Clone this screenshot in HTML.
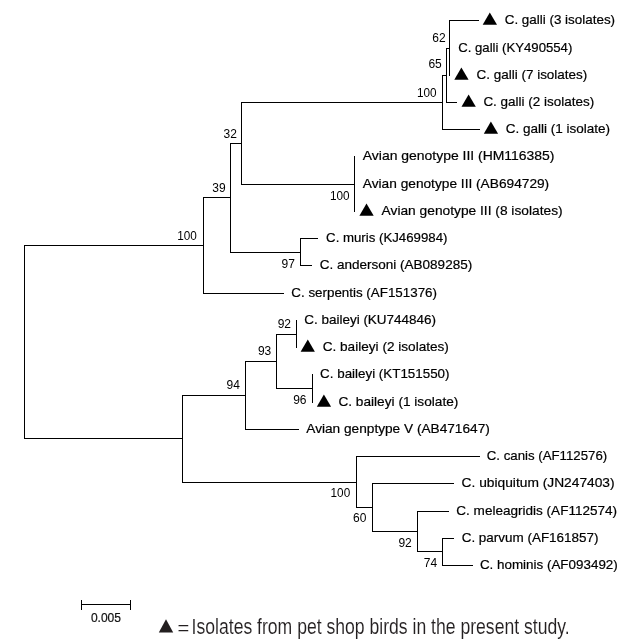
<!DOCTYPE html>
<html lang="en"><head><meta charset="utf-8"><title>Phylogenetic tree</title>
<style>
html,body{margin:0;padding:0;background:#fff;}
svg{display:block;}
.ln{stroke:#000;stroke-width:1;fill:none;stroke-linecap:square;shape-rendering:crispEdges;}
.lb{font-family:"Liberation Sans",Arial,sans-serif;font-size:13.3px;fill:#000;stroke:#000;stroke-width:0.2px;}
.bt{font-family:"Liberation Sans",Arial,sans-serif;font-size:12px;fill:#000;text-anchor:end;}
.sc{font-family:"Liberation Sans",Arial,sans-serif;font-size:12px;fill:#111;stroke:#111;stroke-width:0.2px;}
.cap{font-family:"Liberation Sans",Arial,sans-serif;font-size:21.3px;fill:#231f20;stroke:#fff;stroke-width:0.1px;}
</style></head><body>
<svg width="627" height="644" viewBox="0 0 627 644">
<rect width="627" height="644" fill="#fff"/>
<g class="ln">
<path d="M24.50 245.50H203.00M24.50 438.50H182.00M203.50 293.50H283.50M203.50 197.50H230.00M230.50 252.50H300.00M300.50 238.50H317.50M300.50 265.50H311.50M230.50 143.50H241.00M241.50 184.50H354.00M241.50 102.50H442.00M442.50 129.50H479.50M442.50 75.50H446.00M446.50 102.50H456.50M446.50 48.50H449.00M449.50 20.50H478.50M182.50 395.50H245.00M245.50 429.50H298.00M245.50 361.50H276.00M276.50 334.50H296.00M276.50 388.50H312.00M182.50 482.50H356.00M356.50 456.50H479.00M356.50 507.50H372.00M372.50 483.50H453.00M372.50 531.50H417.00M417.50 511.50H448.00M417.50 551.50H442.00M442.50 538.50H453.00M442.50 565.50H472.50M81.50 604.50H130.00M24.50 245.50V438.50M203.50 197.50V293.50M230.50 143.50V252.50M300.50 238.50V265.50M241.50 102.50V184.50M354.50 156.50V211.50M442.50 75.50V129.50M446.50 48.50V102.50M449.50 20.50V75.50M182.50 395.50V482.50M245.50 361.50V429.50M276.50 334.50V388.50M296.50 320.50V347.50M312.50 374.50V402.50M356.50 456.50V507.50M372.50 483.50V531.50M417.50 511.50V551.50M442.50 538.50V565.50M81.50 600.00V609.50M130.50 600.00V609.50"/>
</g>
<g fill="#000">
<polygon points="482.7,24.7 497.0,24.7 489.8,12.5"/>
<polygon points="454.3,79.7 468.6,79.7 461.4,67.5"/>
<polygon points="461.5,106.7 475.8,106.7 468.6,94.5"/>
<polygon points="483.8,133.7 498.1,133.7 490.9,121.5"/>
<polygon points="359.4,215.7 373.7,215.7 366.5,203.5"/>
<polygon points="300.6,351.7 314.9,351.7 307.8,339.5"/>
<polygon points="316.8,406.7 331.1,406.7 323.9,394.5"/>
</g>
<g class="lb">
<text x="504.7" y="24.4" textLength="110.4" lengthAdjust="spacingAndGlyphs">C. galli (3 isolates)</text>
<text x="458.2" y="52.2" textLength="114.1" lengthAdjust="spacingAndGlyphs">C. galli (KY490554)</text>
<text x="476.5" y="79.4" textLength="110.8" lengthAdjust="spacingAndGlyphs">C. galli (7 isolates)</text>
<text x="483.4" y="106.4" textLength="110.8" lengthAdjust="spacingAndGlyphs">C. galli (2 isolates)</text>
<text x="505.7" y="133.4" textLength="104.4" lengthAdjust="spacingAndGlyphs">C. galli (1 isolate)</text>
<text x="362.8" y="160.2" textLength="191.7" lengthAdjust="spacingAndGlyphs">Avian genotype III (HM116385)</text>
<text x="362.8" y="188.2" textLength="186.4" lengthAdjust="spacingAndGlyphs">Avian genotype III (AB694729)</text>
<text x="381.6" y="215.4" textLength="181.0" lengthAdjust="spacingAndGlyphs">Avian genotype III (8 isolates)</text>
<text x="326.1" y="242.2" textLength="121.3" lengthAdjust="spacingAndGlyphs">C. muris (KJ469984)</text>
<text x="319.7" y="269.2" textLength="152.5" lengthAdjust="spacingAndGlyphs">C. andersoni (AB089285)</text>
<text x="291.3" y="297.2" textLength="145.7" lengthAdjust="spacingAndGlyphs">C. serpentis (AF151376)</text>
<text x="304.2" y="324.2" textLength="131.9" lengthAdjust="spacingAndGlyphs">C. baileyi (KU744846)</text>
<text x="322.7" y="351.4" textLength="126.2" lengthAdjust="spacingAndGlyphs">C. baileyi (2 isolates)</text>
<text x="320.1" y="378.2" textLength="129.4" lengthAdjust="spacingAndGlyphs">C. baileyi (KT151550)</text>
<text x="338.4" y="406.4" textLength="120.0" lengthAdjust="spacingAndGlyphs">C. baileyi (1 isolate)</text>
<text x="306.3" y="433.2" textLength="183.5" lengthAdjust="spacingAndGlyphs">Avian genptype V (AB471647)</text>
<text x="486.8" y="460.2" textLength="120.4" lengthAdjust="spacingAndGlyphs">C. canis (AF112576)</text>
<text x="461.6" y="487.2" textLength="153.0" lengthAdjust="spacingAndGlyphs">C. ubiquitum (JN247403)</text>
<text x="456.3" y="515.2" textLength="160.8" lengthAdjust="spacingAndGlyphs">C. meleagridis (AF112574)</text>
<text x="461.7" y="542.2" textLength="136.8" lengthAdjust="spacingAndGlyphs">C. parvum (AF161857)</text>
<text x="479.9" y="569.2" textLength="137.9" lengthAdjust="spacingAndGlyphs">C. hominis (AF093492)</text>
</g>
<g class="bt">
<text x="445.6" y="41.7">62</text>
<text x="441.8" y="68.2">65</text>
<text x="436.6" y="96.7" textLength="19.6" lengthAdjust="spacingAndGlyphs">100</text>
<text x="236.9" y="137.5">32</text>
<text x="225.6" y="191.6">39</text>
<text x="196.9" y="239.6" textLength="19.6" lengthAdjust="spacingAndGlyphs">100</text>
<text x="349.6" y="199.5" textLength="19.6" lengthAdjust="spacingAndGlyphs">100</text>
<text x="294.9" y="267.5">97</text>
<text x="291.0" y="327.6">92</text>
<text x="271.3" y="354.6">93</text>
<text x="239.9" y="388.7">94</text>
<text x="306.5" y="403.7">96</text>
<text x="350.2" y="496.5" textLength="19.6" lengthAdjust="spacingAndGlyphs">100</text>
<text x="366.4" y="522.4">60</text>
<text x="411.8" y="546.5">92</text>
<text x="437.1" y="566.6">74</text>
</g>
<text class="sc" x="90.9" y="622" textLength="30.1" lengthAdjust="spacingAndGlyphs">0.005</text>
<polygon points="158.8,632.6 173.2,632.6 166,619.2" fill="#231f20"/>
<text class="cap" x="177.4" y="634.1" textLength="11.8" lengthAdjust="spacingAndGlyphs" style="font-size:19px">=</text>
<text class="cap" x="191.6" y="633.7" textLength="378" lengthAdjust="spacingAndGlyphs">Isolates from pet shop birds in the present study.</text>
</svg></body></html>
